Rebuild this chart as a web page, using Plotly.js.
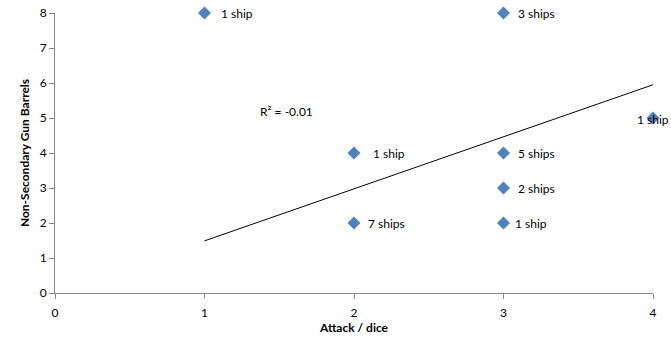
<!DOCTYPE html>
<html>
<head>
<meta charset="utf-8">
<script src="https://cdn.plot.ly/plotly-3.0.1.min.js"></script>
<style>html,body{margin:0;padding:0;background:#fff;}#chart{width:671px;height:355px;}</style>
</head>
<body>
<div id="chart"></div>
<script>
// Data
const attack = [1, 3, 4, 2, 3, 3, 2, 3];
const barrels = [8, 8, 5, 4, 4, 3, 2, 2];
const shipLabels = ["1 ship", "3 ships", "1 ship", "1 ship", "5 ships", "2 ships", "7 ships", "1 ship"];
const trendX = [1, 4];
const trendY = [1.49, 5.95];
const r2Text = "R² = -0.01";
const r2Pos = [1.55, 5.2];

// Label offsets (style, pixels)
const labelShift = [14, 12, -18, 17, 12, 12, 12, 9];

const font = "Lato, 'Liberation Sans', Arial, sans-serif";

const traces = [
  {
    x: attack, y: barrels, type: "scatter", mode: "markers", cliponaxis: false,
    marker: {symbol: "diamond", size: 10, color: "#4F81BD", line: {width: 0}},
    hoverinfo: "skip", showlegend: false
  },
  {
    x: trendX, y: trendY, type: "scatter", mode: "lines", cliponaxis: false,
    line: {color: "#000000", width: 1}, hoverinfo: "skip", showlegend: false
  }
];

const annotations = shipLabels.map((t, i) => ({
  x: attack[i], y: barrels[i], xref: "x", yref: "y",
  text: t, showarrow: false, xanchor: "left", yanchor: "middle",
  xshift: labelShift[i], yshift: i === 2 ? -1 : 0,
  font: {family: font, size: 12, color: "#000"}
}));
annotations.push({
  x: r2Pos[0], y: r2Pos[1], xref: "x", yref: "y", text: r2Text,
  showarrow: false, xanchor: "center", yanchor: "middle",
  font: {family: font, size: 12, color: "#000"}
});

const layout = {
  width: 671, height: 355,
  margin: {l: 55, r: 18, t: 13, b: 62},
  paper_bgcolor: "#fff", plot_bgcolor: "#fff",
  font: {family: font, size: 12, color: "#000"},
  xaxis: {
    range: [0, 4], tickvals: [0, 1, 2, 3, 4], showgrid: false, zeroline: false,
    showline: true, linecolor: "#868686", linewidth: 1,
    ticks: "outside", ticklen: 5, tickcolor: "#868686", ticklabelstandoff: 4,
    tickfont: {family: font, size: 12, color: "#000"},
    title: {text: "<b>Attack / dice</b>", font: {family: font, size: 12, color: "#000"}, standoff: 4}
  },
  yaxis: {
    range: [0, 8], tickvals: [0, 1, 2, 3, 4, 5, 6, 7, 8], showgrid: false, zeroline: false,
    showline: true, linecolor: "#868686", linewidth: 1,
    ticks: "outside", ticklen: 5, tickcolor: "#868686",
    tickfont: {family: font, size: 12, color: "#000"},
    title: {text: "<b>Non-Secondary Gun Barrels</b>", font: {family: font, size: 12, color: "#000"}, standoff: 7}
  },
  annotations: annotations
};

Plotly.newPlot("chart", traces, layout, {staticPlot: true, displayModeBar: false});
</script>
</body>
</html>
